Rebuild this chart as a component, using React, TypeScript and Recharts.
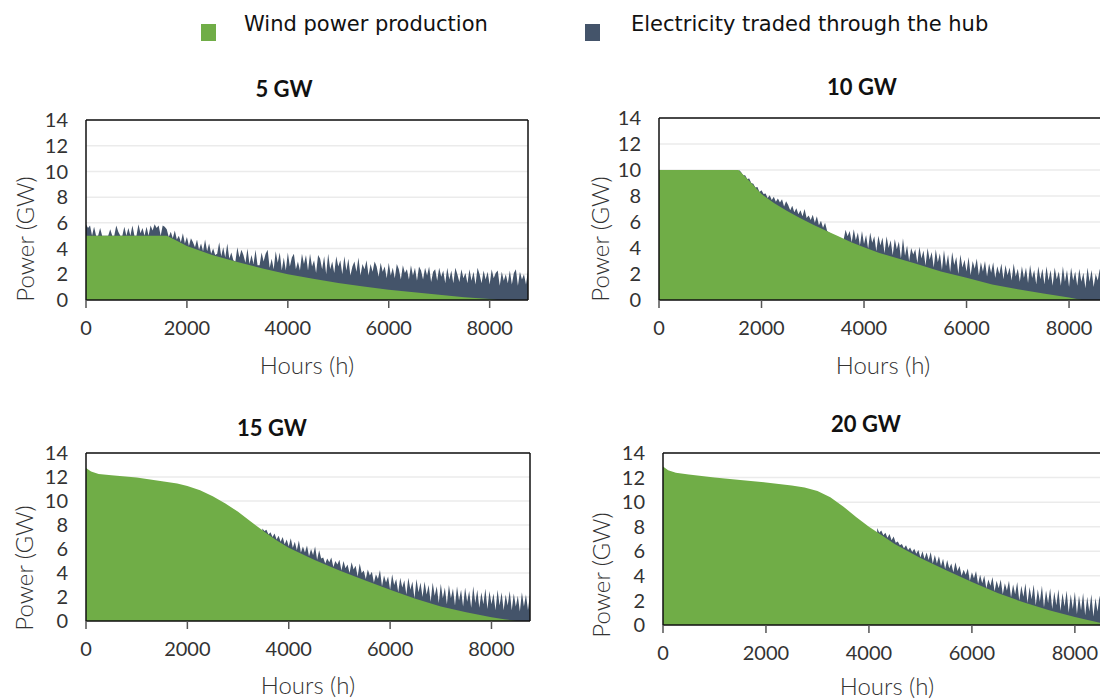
import type { CSSProperties, ReactNode } from "react"
import { AreaChart, Area, XAxis, YAxis, CartesianGrid, ReferenceLine } from "recharts"

const GREEN = "#70ad47"
const NAVY = "#44546a"

const YEAR_HOURS = 8760
const HOUR_TICKS = [0, 2000, 4000, 6000, 8000]
const POWER_TICKS = [0, 2, 4, 6, 8, 10, 12, 14]
// traded-power envelope is sampled every 40 h from its start hour
const TRADE_STEP = 40

// ---- 5 GW hub ----
const wind5Hours = [0, 1600, 1800, 2000, 2500, 3000, 3500, 4000, 4500, 5000, 5500, 6000, 6500, 7000, 7500, 8000, 8150]
const wind5 = [5.0, 5.0, 4.6, 4.2, 3.5, 2.95, 2.45, 2.0, 1.65, 1.32, 1.05, 0.8, 0.6, 0.4, 0.22, 0.08, 0]
const trade5Start = 0
const trade5Total = [
  5.9, 5.6, 5.8, 5.0, 5.7, 5.0, 5.0, 5.6, 5.0, 5.0,
  5.0, 5.0, 5.5, 5.0, 5.0, 5.8, 5.3, 5.0, 5.0, 5.7,
  5.0, 5.6, 5.0, 5.8, 5.0, 5.0, 5.9, 5.2, 5.6, 5.0,
  5.7, 5.0, 5.8, 5.4, 5.9, 5.6, 5.8, 5.0, 5.8, 5.7,
  5.5, 4.9, 5.3, 4.8, 5.4, 4.7, 5.0, 4.5, 5.2, 4.4,
  4.9, 4.2, 4.8, 4.5, 4.1, 4.7, 3.9, 4.4, 3.8, 4.7,
  3.8, 4.4, 3.6, 4.0, 3.5, 3.6, 4.5, 3.4, 4.1, 3.3,
  4.4, 3.2, 3.7, 3.1, 3.0, 4.1, 3.3, 3.9, 3.5, 2.9,
  4.0, 2.8, 3.5, 2.8, 3.9, 2.7, 2.7, 3.7, 3.0, 3.6,
  3.9, 2.5, 3.2, 2.4, 3.8, 2.9, 3.7, 2.3, 3.3, 2.3,
  3.7, 2.6, 3.3, 3.6, 2.4, 3.0, 2.3, 3.6, 2.8, 3.5,
  2.3, 3.6, 2.6, 3.1, 2.1, 3.5, 3.2, 2.4, 3.4, 2.0,
  3.6, 2.4, 3.0, 2.1, 3.4, 2.6, 3.1, 2.0, 3.4, 2.3,
  3.2, 1.9, 2.6, 3.0, 2.2, 3.3, 1.9, 2.8, 2.4, 3.1,
  1.9, 2.8, 2.2, 3.0, 2.6, 1.8, 2.9, 2.2, 2.6, 1.7,
  2.9, 1.9, 2.5, 1.7, 2.8, 2.4, 1.6, 2.7, 2.1, 2.4,
  1.6, 2.7, 1.9, 2.5, 1.5, 2.6, 2.3, 1.6, 2.5, 1.9,
  2.6, 1.4, 2.2, 2.4, 1.5, 2.5, 1.8, 2.3, 1.3, 2.5,
  1.6, 2.3, 1.3, 2.5, 2.0, 1.4, 2.4, 1.7, 2.1, 1.3,
  2.4, 1.5, 2.2, 1.2, 2.5, 2.0, 1.3, 2.3, 1.6, 2.2,
  1.2, 2.4, 1.7, 2.1, 2.3, 1.1, 2.2, 1.5, 2.0, 1.3,
  2.3, 1.2, 2.1, 2.4, 1.1, 2.2, 1.6, 2.0, 1.2, 2.3,
]

// ---- 10 GW hub ----
const wind10Hours = [0, 1550, 1700, 1800, 2000, 2250, 2500, 2750, 3000, 3250, 3500, 3750, 4000, 4300, 4700, 5000, 5500, 6000, 6500, 7000, 7500, 8000, 8250]
const wind10 = [10, 10, 9.4, 9.0, 8.15, 7.45, 6.85, 6.3, 5.8, 5.35, 4.9, 4.45, 4.05, 3.62, 3.15, 2.8, 2.2, 1.72, 1.2, 0.82, 0.5, 0.2, 0]
const trade10Start = 1560
const trade10Total = [
  10.0, 9.85, 9.6, 9.6, 9.3, 9.35, 9.0, 8.95, 8.65, 8.7,
  8.3, 8.45, 8.15, 8.2, 7.85, 8.05, 7.7, 7.95, 7.55, 7.8,
  7.5, 7.75, 7.2, 7.6, 7.3, 6.9, 7.25, 6.75, 7.05, 6.6,
  6.9, 6.45, 7.0, 6.3, 6.5, 6.15, 6.55, 5.95, 6.45, 5.75,
  6.1, 5.55, 5.95, 5.3, 5.2, 5.1, 5.0, 4.9, 4.8, 4.75,
  4.7, 4.6, 5.4, 4.9, 5.3, 4.45, 5.45, 4.6, 5.2, 4.2,
  5.3, 4.3, 5.0, 3.95, 5.2, 4.4, 4.9, 3.75, 4.95, 4.2,
  4.8, 3.6, 4.9, 4.0, 4.6, 3.45, 4.7, 3.9, 4.5, 3.2,
  4.75, 3.4, 4.2, 3.0, 4.0, 3.5, 3.9, 2.85, 4.1, 3.2,
  3.8, 2.65, 4.0, 3.1, 3.7, 2.5, 3.9, 2.9, 3.6, 2.3,
  3.85, 2.6, 3.5, 2.15, 3.7, 2.7, 3.3, 2.0, 3.5, 2.5,
  3.1, 2.2, 3.3, 1.9, 3.0, 2.4, 3.2, 1.9, 2.9, 2.2,
  3.0, 1.8, 2.8, 2.1, 2.9, 1.7, 2.6, 2.0, 2.8, 1.6,
  2.7, 1.9, 2.5, 1.5, 2.8, 1.8, 2.4, 1.4, 2.6, 1.7,
  2.5, 1.3, 2.7, 1.7, 2.3, 1.2, 2.6, 1.6, 2.4, 1.2,
  2.6, 1.5, 2.3, 1.1, 2.5, 1.6, 2.2, 1.1, 2.6, 1.4,
  2.3, 1.0, 2.5, 1.5, 2.2, 1.1, 2.4, 1.4, 2.1, 0.9,
  2.5, 1.4, 2.3, 1.0, 2.0, 1.5, 2.4, 1.0, 2.2, 1.3,
  2.3,
]

// ---- 15 GW hub ----
const wind15Hours = [0, 100, 250, 500, 1000, 1500, 1800, 2000, 2250, 2500, 2750, 3000, 3250, 3500, 3750, 4000, 4250, 4500, 5000, 5500, 6000, 6500, 7000, 7500, 8000, 8250, 8500]
const wind15 = [12.75, 12.45, 12.25, 12.15, 11.95, 11.65, 11.45, 11.25, 10.9, 10.4, 9.8, 9.1, 8.3, 7.5, 6.75, 6.1, 5.6, 5.1, 4.2, 3.4, 2.6, 1.85, 1.2, 0.72, 0.32, 0.15, 0]
const trade15Start = 3480
const trade15Total = [
  7.7, 7.5, 7.6, 7.2, 7.4, 7.0, 7.3, 6.8, 7.1, 6.6,
  7.0, 6.4, 6.8, 6.2, 6.9, 6.1, 6.6, 5.9, 6.7, 5.7,
  6.2, 5.7, 6.3, 5.4, 6.0, 5.5, 6.2, 5.1, 5.9, 5.2,
  5.3, 4.8, 5.2, 4.9, 5.3, 4.5, 5.0, 4.7, 5.1, 4.2,
  5.0, 4.4, 4.7, 4.0, 4.9, 4.3, 4.6, 3.7, 4.8, 4.0,
  4.2, 3.5, 4.3, 3.8, 4.1, 3.2, 3.9, 3.5, 4.25, 2.9,
  3.8, 3.2, 3.7, 2.6, 3.9, 3.0, 3.5, 2.4, 3.6, 2.8,
  3.4, 2.2, 3.6, 2.6, 3.3, 1.9, 3.5, 2.4, 3.2, 2.0,
  3.3, 2.2, 3.0, 1.6, 3.2, 2.1, 2.9, 1.5, 3.1, 1.9,
  2.8, 1.4, 3.0, 1.9, 2.7, 1.3, 2.9, 1.7, 2.6, 1.2,
  2.8, 1.6, 2.5, 1.1, 2.9, 1.5, 2.6, 1.1, 2.4, 1.4,
  2.7, 1.0, 2.5, 1.4, 2.3, 0.9, 2.6, 1.3, 2.4, 0.9,
  2.2, 1.3, 2.5, 0.9, 2.3, 1.2, 2.1, 0.8, 2.4, 1.2,
  2.2, 0.9, 2.3,
]

// ---- 20 GW hub ----
const wind20Hours = [0, 100, 250, 500, 1000, 1500, 2000, 2500, 2750, 3000, 3250, 3500, 3750, 4000, 4250, 4500, 5000, 5500, 6000, 6500, 7000, 7500, 8000, 8250, 8500, 8700, 8760]
const wind20 = [12.9, 12.6, 12.4, 12.25, 12.0, 11.8, 11.6, 11.35, 11.2, 10.9, 10.4, 9.65, 8.8, 8.0, 7.3, 6.6, 5.45, 4.45, 3.5, 2.6, 1.85, 1.2, 0.65, 0.4, 0.18, 0.03, 0]
const trade20Start = 4160
const trade20Total = [
  7.9, 7.5, 7.7, 7.3, 7.5, 7.1, 7.4, 6.9, 7.2, 6.7,
  6.8, 6.5, 6.6, 6.25, 6.5, 6.1, 6.3, 5.95, 6.2, 5.8,
  6.1, 5.5, 6.0, 5.4, 5.9, 5.3, 5.95, 5.0, 5.7, 5.0,
  5.6, 4.8, 5.4, 4.55, 5.3, 4.6, 5.0, 4.3, 5.1, 4.4,
  4.8, 4.0, 4.5, 4.1, 4.6, 3.6, 4.3, 3.8, 4.4, 3.35,
  4.1, 3.4, 4.0, 3.0, 3.7, 3.2, 3.9, 2.75, 3.6, 3.0,
  3.7, 2.5, 3.4, 2.8, 3.6, 2.25, 3.3, 2.5, 3.5, 2.0,
  3.2, 2.3, 3.4, 1.8, 3.1, 2.1, 3.3, 1.6, 2.9, 1.9,
  3.2, 1.45, 2.8, 1.8, 3.0, 1.3, 2.7, 1.6, 2.9, 1.15,
  2.6, 1.5, 2.8, 1.0, 2.5, 1.3, 2.7, 0.9, 2.4, 1.2,
  2.6, 0.8, 2.3, 1.1, 2.5, 0.7, 2.2, 1.1, 2.4, 0.65,
  2.3, 1.0, 2.1, 0.65, 2.4, 0.9,
]

type Row = { h: number; wind?: number; total?: number }

// merge the wind curve and the traded envelope into one table keyed by hour
function buildRows(windHours: number[], wind: number[], tradeStart: number, tradeTotal: number[]): Row[] {
  const byHour = new Map<number, Row>()
  windHours.forEach((h, i) => byHour.set(h, { h, wind: wind[i] }))
  tradeTotal.forEach((v, i) => {
    const h = tradeStart + i * TRADE_STEP
    const row = byHour.get(h) ?? { h }
    row.total = v
    byHour.set(h, row)
  })
  return [...byHour.values()].sort((a, b) => a.h - b.h)
}

const tickStyle = { fontFamily: "Lato, sans-serif", fontWeight: 400, fontSize: 20, fill: "#333" }
const frame = { stroke: "#111", strokeWidth: 1.5 }

function PowerPanel({ rows, left, top, width, height }: { rows: Row[]; left: number; top: number; width: number; height: number }) {
  return (
    <div style={{ position: "absolute", left, top }}>
      <AreaChart width={width} height={height} data={rows} margin={{ top: 12, right: 2, bottom: 0, left: 0 }}>
        <CartesianGrid vertical={false} stroke="#ebebeb" strokeWidth={1.5} />
        <Area dataKey="total" type="linear" fill={NAVY} fillOpacity={1} stroke="none" connectNulls isAnimationActive={false} />
        <Area dataKey="wind" type="linear" fill={GREEN} fillOpacity={1} stroke="none" connectNulls isAnimationActive={false} />
        <XAxis
          dataKey="h"
          type="number"
          domain={[0, YEAR_HOURS]}
          ticks={HOUR_TICKS}
          interval={0}
          height={40}
          tickSize={8}
          tickMargin={13}
          axisLine={frame}
          tickLine={{ stroke: "#555", strokeWidth: 1.5 }}
          tick={tickStyle}
        />
        <YAxis
          type="number"
          domain={[0, 14]}
          ticks={POWER_TICKS}
          interval={0}
          width={86}
          tickLine={false}
          tickSize={0}
          tickMargin={18}
          axisLine={frame}
          tick={tickStyle}
        />
        <ReferenceLine y={14} {...frame} />
        <ReferenceLine x={YEAR_HOURS} {...frame} />
      </AreaChart>
    </div>
  )
}

function Caption({ x, y, vertical, style, children }: { x: number; y: number; vertical?: boolean; style?: CSSProperties; children: ReactNode }) {
  return (
    <div
      style={{
        position: "absolute",
        left: x,
        top: y,
        transform: `translate(-50%, -50%)${vertical ? " rotate(-90deg)" : ""}`,
        whiteSpace: "nowrap",
        lineHeight: 1,
        ...style,
      }}
    >
      {children}
    </div>
  )
}

const titleStyle: CSSProperties = { fontFamily: "Lato, sans-serif", fontWeight: 700, fontSize: 22, color: "#111" }
const axisTitleStyle: CSSProperties = { fontFamily: "Lato, sans-serif", fontWeight: 300, fontSize: 24, color: "#333" }
const legendText: CSSProperties = { position: "absolute", top: 24, transform: "translateY(-50%)", fontFamily: "'DejaVu Sans', Verdana, sans-serif", fontSize: 21, color: "#111", whiteSpace: "nowrap", lineHeight: 1 }

export default function App() {
  const rows5 = buildRows(wind5Hours, wind5, trade5Start, trade5Total)
  const rows10 = buildRows(wind10Hours, wind10, trade10Start, trade10Total)
  const rows15 = buildRows(wind15Hours, wind15, trade15Start, trade15Total)
  const rows20 = buildRows(wind20Hours, wind20, trade20Start, trade20Total)

  return (
    <div style={{ position: "absolute", left: 0, top: 0, width: 1100, height: 700, overflow: "hidden", background: "#fff" }}>
      {/* legend */}
      <div style={{ position: "absolute", left: 201, top: 24, width: 15, height: 17, background: GREEN }} />
      <div style={{ ...legendText, left: 244 }}>Wind power production</div>
      <div style={{ position: "absolute", left: 585, top: 24, width: 15, height: 17, background: NAVY }} />
      <div style={{ ...legendText, left: 631 }}>Electricity traded through the hub</div>

      <PowerPanel rows={rows5} left={0} top={108} width={530} height={232} />
      <PowerPanel rows={rows10} left={573} top={106} width={537} height={234} />
      <PowerPanel rows={rows15} left={0} top={441} width={532} height={220} />
      <PowerPanel rows={rows20} left={577} top={441} width={539} height={224} />

      <Caption x={284} y={89} style={titleStyle}>5 GW</Caption>
      <Caption x={862} y={87} style={titleStyle}>10 GW</Caption>
      <Caption x={272} y={428} style={titleStyle}>15 GW</Caption>
      <Caption x={866} y={424} style={titleStyle}>20 GW</Caption>

      <Caption x={307} y={365} style={axisTitleStyle}>Hours (h)</Caption>
      <Caption x={883} y={365} style={axisTitleStyle}>Hours (h)</Caption>
      <Caption x={308} y={685} style={axisTitleStyle}>Hours (h)</Caption>
      <Caption x={887} y={686} style={axisTitleStyle}>Hours (h)</Caption>

      <Caption x={25} y={239} vertical style={axisTitleStyle}>Power (GW)</Caption>
      <Caption x={600} y={239} vertical style={axisTitleStyle}>Power (GW)</Caption>
      <Caption x={24} y={568} vertical style={axisTitleStyle}>Power (GW)</Caption>
      <Caption x={601} y={575} vertical style={axisTitleStyle}>Power (GW)</Caption>
    </div>
  )
}
